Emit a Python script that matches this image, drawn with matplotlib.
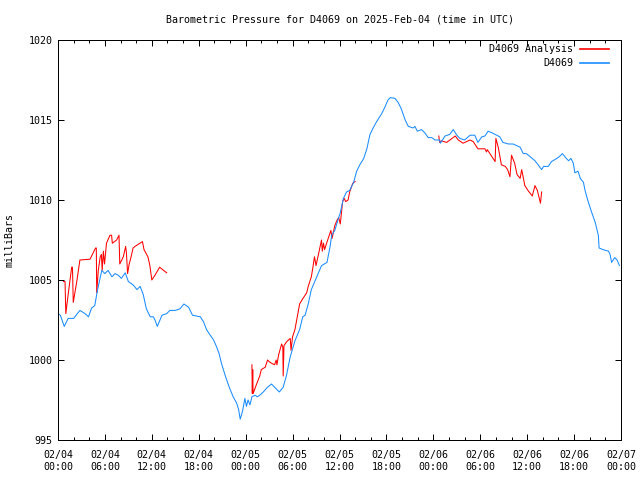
import matplotlib
matplotlib.use("Agg")
import matplotlib.pyplot as plt
import numpy as np

# ---- data (hours since 2025-02-04 00:00 UTC, millibars) ----
obs_hours = [0.0, 0.3, 0.8, 1.3, 2.0, 2.8, 3.45, 3.9, 4.3, 4.7, 4.95, 5.15, 5.6, 6.0, 6.4, 6.9,
             7.3, 7.7, 8.1, 8.6, 9.0, 9.6, 10.1, 10.5, 10.9, 11.3, 11.8, 12.2, 12.4, 12.7, 13.3,
             13.9, 14.3, 15.0, 15.6, 16.1, 16.7, 17.2, 18.2, 18.6, 19.0, 19.4, 19.9, 20.3, 20.6,
             20.9, 21.4, 21.9, 22.4, 22.85, 23.1, 23.3, 23.6, 23.9, 24.1, 24.3, 24.55, 24.8, 25.2,
             25.5, 25.8, 26.25, 26.8, 27.3, 27.7, 28.3, 28.8, 29.2, 29.7, 30.3, 30.9, 31.3, 31.6,
             32.0, 32.4, 33.1, 33.7, 34.4, 34.8, 35.0, 35.4, 35.8, 36.1, 36.5, 36.9, 37.3, 37.8,
             38.2, 38.6, 39.1, 39.5, 39.9, 40.3, 40.75, 41.4, 41.8, 42.2, 42.5, 43.1, 43.5, 43.9,
             44.4, 44.8, 45.4, 45.65, 45.95, 46.5, 46.9, 47.35, 47.8, 48.2, 48.8, 48.9, 49.5, 50.1,
             50.55, 51.0, 51.4, 52.0, 52.7, 53.3, 53.7, 54.2, 54.6, 55.0, 55.5, 56.1, 56.5, 56.9,
             57.6, 58.2, 59.1, 59.5, 59.9, 60.4, 61.0, 61.4, 61.85, 62.1, 62.7, 63.1, 63.8, 64.2,
             64.5, 65.0, 65.3, 65.6, 65.9, 66.1, 66.5, 66.8, 67.2, 67.4, 67.8, 68.2, 68.7, 69.1,
             69.2, 69.7, 70.4, 70.6, 70.8, 71.2, 71.5, 71.8]
obs_mb = [1002.9, 1002.8, 1002.1, 1002.6, 1002.6, 1003.1, 1002.9, 1002.7, 1003.25, 1003.4, 1004.1,
          1004.6, 1005.6, 1005.4, 1005.6, 1005.2, 1005.4, 1005.3, 1005.1, 1005.45, 1004.9, 1004.7,
          1004.4, 1004.6, 1004.1, 1003.2, 1002.7, 1002.7, 1002.5, 1002.1, 1002.8, 1002.9, 1003.1,
          1003.1, 1003.2, 1003.5, 1003.3, 1002.8, 1002.7, 1002.4, 1001.9, 1001.6, 1001.25, 1000.8,
          1000.4, 999.8, 999.0, 998.3, 997.7, 997.3, 996.9, 996.3, 996.8, 997.6, 997.1, 997.5,
          997.2, 997.7, 997.8, 997.7, 997.8, 998.0, 998.3, 998.5, 998.3, 998.0, 998.3, 999.0,
          1000.2, 1001.2, 1001.9, 1002.7, 1002.8, 1003.5, 1004.4, 1005.2, 1005.9, 1006.1, 1007.1,
          1007.8, 1008.1, 1008.75, 1009.2, 1010.1, 1010.5, 1010.6, 1011.1, 1011.8, 1012.2, 1012.6,
          1013.2, 1014.1, 1014.5, 1014.9, 1015.4, 1015.8, 1016.25, 1016.4, 1016.35, 1016.1, 1015.7,
          1015.0, 1014.6, 1014.5, 1014.6, 1014.3, 1014.4, 1014.2, 1013.9, 1013.9, 1013.75, 1013.75,
          1013.55, 1014.0, 1014.1, 1014.4, 1014.05, 1013.85, 1013.75, 1014.05, 1014.05, 1013.6,
          1013.95, 1014.0, 1014.3, 1014.2, 1014.05, 1013.95, 1013.6, 1013.5, 1013.5, 1013.3, 1012.9,
          1012.9, 1012.7, 1012.45, 1012.2, 1011.9, 1012.1, 1012.1, 1012.4, 1012.6, 1012.75, 1012.9,
          1012.6, 1012.45, 1012.6, 1012.3, 1011.7, 1011.8, 1011.35, 1011.1, 1010.6, 1009.9, 1009.3,
          1008.6, 1007.8, 1007.0, 1006.9, 1006.8, 1006.6, 1006.1, 1006.4, 1006.25, 1005.9]

ana1_hours = [0.7, 0.9, 1.0, 1.3, 1.75, 1.85, 1.95, 2.4, 2.8, 4.1, 4.5, 4.8, 4.9, 4.95, 5.15, 5.4,
              5.55, 5.65, 5.8, 5.95, 6.2, 6.65, 6.85, 6.95, 7.5, 7.8, 7.9, 8.35, 8.65, 8.75, 8.9,
              9.1, 9.3, 9.6, 9.85, 10.5, 10.8, 11.0, 11.5, 11.75, 12.0, 12.4, 13.0, 13.5, 13.9]
ana1_mb = [1004.9, 1004.9, 1002.9, 1004.1, 1005.8, 1005.8, 1003.6, 1004.9, 1006.25, 1006.3, 1006.7,
           1007.0, 1007.0, 1004.2, 1005.6, 1006.45, 1006.6, 1005.6, 1006.8, 1006.0, 1007.3, 1007.8,
           1007.8, 1007.3, 1007.5, 1007.8, 1006.0, 1006.45, 1007.1, 1006.7, 1005.4, 1006.0, 1006.35,
           1007.0, 1007.1, 1007.3, 1007.4, 1006.9, 1006.45, 1005.9, 1005.0, 1005.3, 1005.8, 1005.6,
           1005.45]

ana2_hours = [24.8, 24.85, 24.9, 24.95, 25.1, 25.4, 25.8, 26.0, 26.5, 26.8, 27.0, 27.3, 27.7, 27.9,
              28.0, 28.2, 28.6, 28.75, 28.8, 28.9, 29.25, 29.7, 29.8, 30.0, 30.3, 30.6, 30.9, 31.2,
              31.8, 32.0, 32.4, 32.6, 32.8, 33.0, 33.3, 33.6, 33.7, 33.8, 33.95, 34.1, 34.35, 34.7,
              34.9, 35.05, 35.4, 35.7, 35.9, 36.1, 36.4, 36.6, 36.8, 37.1, 37.3, 37.7, 38.0]
ana2_mb = [999.7, 997.9, 999.4, 997.9, 998.1, 998.5, 999.0, 999.4, 999.55, 1000.0, 999.9, 999.8,
           999.7, 1000.0, 999.7, 1000.3, 1001.0, 1000.8, 999.0, 1000.9, 1001.15, 1001.35, 1000.6,
           1001.45, 1001.9, 1002.7, 1003.5, 1003.75, 1004.2, 1004.6, 1005.2, 1005.8, 1006.45,
           1005.9, 1006.6, 1007.3, 1007.5, 1006.8, 1007.3, 1006.9, 1007.3, 1007.8, 1008.1, 1007.6,
           1008.4, 1008.75, 1008.9, 1008.5, 1009.9, 1010.1, 1009.9, 1010.0, 1010.5, 1011.05, 1011.15]

ana3_hours = [48.7, 48.8, 49.0, 49.7, 50.8, 51.2, 51.8, 52.7, 53.1, 53.7, 54.6, 54.8, 54.9, 55.5,
              55.9, 56.0, 56.3, 56.7, 57.2, 57.5, 57.8, 58.0, 58.4, 58.7, 59.1, 59.3, 59.7, 60.1,
              60.65, 61.0, 61.3, 61.7, 61.85]
ana3_mb = [1014.0, 1013.6, 1013.7, 1013.6, 1014.0, 1013.75, 1013.55, 1013.75, 1013.65, 1013.2,
           1013.2, 1013.0, 1013.15, 1012.7, 1012.4, 1013.85, 1013.3, 1012.2, 1012.1, 1011.9,
           1011.45, 1012.8, 1012.3, 1011.6, 1011.35, 1011.9, 1010.9, 1010.6, 1010.25, 1010.9,
           1010.6, 1009.8, 1010.5]

tick_hours = list(range(0, 73, 6))
tick_labels = ["02/04\n00:00", "02/04\n06:00", "02/04\n12:00", "02/04\n18:00",
               "02/05\n00:00", "02/05\n06:00", "02/05\n12:00", "02/05\n18:00",
               "02/06\n00:00", "02/06\n06:00", "02/06\n12:00", "02/06\n18:00",
               "02/07\n00:00"]
y_ticks = [995, 1000, 1005, 1010, 1015, 1020]

# ---- figure ----
plt.rcParams['font.family'] = ['DejaVu Sans Mono']
plt.rcParams['font.size'] = 7.2

fig = plt.figure(figsize=(6.4, 4.8), dpi=100)
ax = fig.add_axes([58/640, 1 - 440/480, (621-58)/640, 400/480])

# analysis: join segments with NaN gaps
ana_h = ana1_hours + [np.nan] + ana2_hours + [np.nan] + ana3_hours
ana_v = ana1_mb + [np.nan] + ana2_mb + [np.nan] + ana3_mb

ax.plot(ana_h, ana_v, color='#ff0000', lw=0.75, label='D4069 Analysis')
ax.plot(obs_hours, obs_mb, color='#1a8cff', lw=0.75, label='D4069')

ax.set_xlim(0, 72)
ax.set_ylim(995, 1020)
ax.set_xticks(tick_hours)
ax.set_xticklabels(tick_labels)
ax.set_xticks(list(range(0, 73, 2)), minor=True)
ax.set_yticks(y_ticks)
ax.set_yticklabels([str(v) for v in y_ticks])

ax.tick_params(axis='both', which='major', direction='in', length=4.5, width=0.72,
               top=True, right=True, labelsize=7.2)
ax.tick_params(axis='x', which='minor', direction='in', length=2.2, width=0.72, top=True)
ax.tick_params(axis='x', which='major', pad=7.5)
ax.tick_params(axis='y', which='major', pad=4)
for s in ax.spines.values():
    s.set_linewidth(0.72)

fig.text(339.5/640, 1 - 19/480, "Barometric Pressure for D4069 on 2025-Feb-04 (time in UTC)",
         ha='center', va='center', fontsize=7.2)
fig.text(10/640, 0.5, "milliBars", rotation=90, ha='center', va='center', fontsize=7.2)

leg = ax.legend(loc='upper right', bbox_to_anchor=(1 - 6/563, 1 + 2/400),
                frameon=False, markerfirst=False, fontsize=7.2,
                handlelength=2.9, handletextpad=0.7, labelspacing=0.45,
                borderaxespad=0.3, borderpad=0.3)
for ln in leg.get_lines():
    ln.set_linewidth(1.2)

fig.savefig("out.png", dpi=100)
